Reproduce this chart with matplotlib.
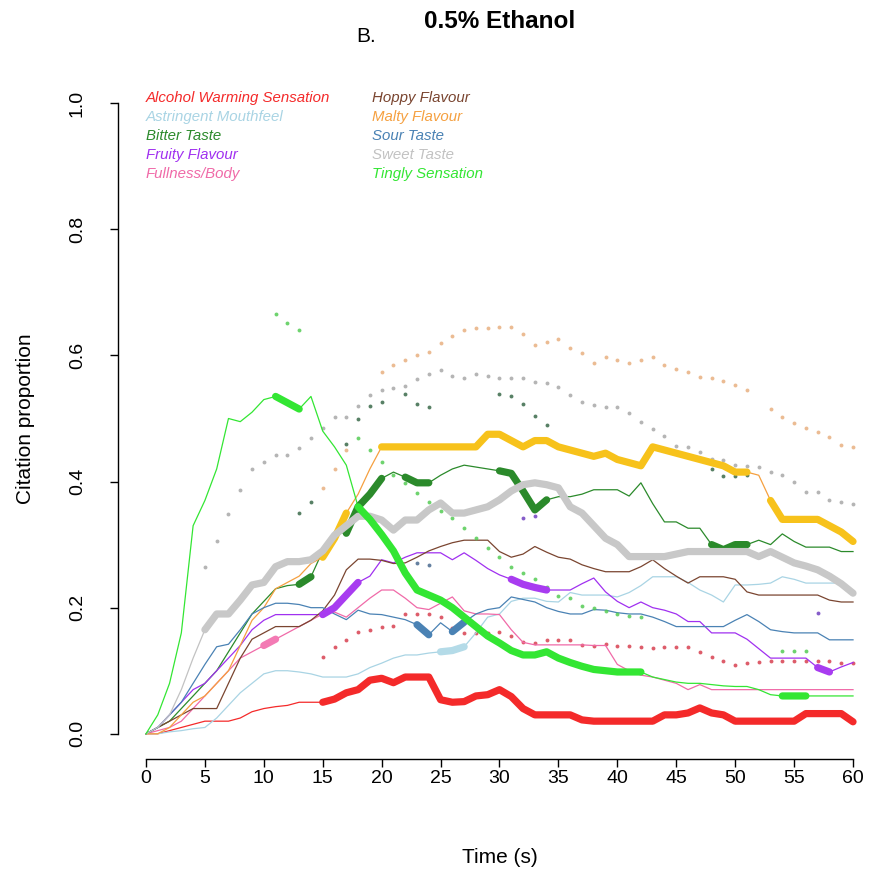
import matplotlib

matplotlib.use("Agg")

import matplotlib.pyplot as plt
import numpy as np

plt.rcParams["font.family"] = ["Liberation Sans", "DejaVu Sans"]

TIME = list(range(61))

ALCOHOL = [
    0, 0, 0.005, 0.01, 0.015, 0.02, 0.02, 0.02, 0.025, 0.035,
    0.04, 0.043, 0.045, 0.05, 0.05, 0.05, 0.055, 0.065, 0.07, 0.085,
    0.088, 0.081, 0.09, 0.09, 0.09, 0.054, 0.05, 0.051, 0.06, 0.062,
    0.07, 0.059, 0.04, 0.03, 0.03, 0.03, 0.03, 0.022, 0.02, 0.02,
    0.02, 0.02, 0.02, 0.02, 0.03, 0.03, 0.033, 0.041, 0.033, 0.03,
    0.02, 0.02, 0.02, 0.02, 0.02, 0.02, 0.032, 0.032, 0.032, 0.032, 0.019,
]
ASTRINGENT = [
    0, 0, 0.003, 0.005, 0.008, 0.01, 0.025, 0.045, 0.065, 0.08,
    0.095, 0.1, 0.1, 0.098, 0.095, 0.09, 0.09, 0.09, 0.095, 0.105,
    0.112, 0.12, 0.125, 0.125, 0.128, 0.13, 0.132, 0.138, 0.16, 0.185,
    0.19, 0.21, 0.215, 0.215, 0.21, 0.209, 0.224, 0.22, 0.22, 0.22,
    0.217, 0.224, 0.235, 0.249, 0.249, 0.249, 0.24, 0.228, 0.22, 0.209,
    0.236, 0.236, 0.237, 0.239, 0.249, 0.245, 0.239, 0.239, 0.239, 0.239, 0.223,
]
BITTER = [
    0, 0.01, 0.02, 0.04, 0.06, 0.08, 0.1, 0.13, 0.16, 0.19,
    0.21, 0.23, 0.235, 0.237, 0.249, 0.29, 0.32, 0.318, 0.36, 0.38,
    0.405, 0.415, 0.407, 0.398, 0.398, 0.41, 0.42, 0.426, 0.423, 0.42,
    0.417, 0.413, 0.385, 0.355, 0.371, 0.376, 0.376, 0.38, 0.387, 0.387,
    0.387, 0.377, 0.398, 0.365, 0.336, 0.336, 0.326, 0.326, 0.3, 0.292,
    0.3, 0.3, 0.307, 0.3, 0.317, 0.305, 0.296, 0.296, 0.296, 0.289, 0.289,
]
FRUITY = [
    0, 0.01, 0.03, 0.05, 0.07, 0.08, 0.1, 0.12, 0.14, 0.165,
    0.18, 0.189, 0.189, 0.189, 0.189, 0.189, 0.2, 0.22, 0.24, 0.25,
    0.276, 0.271, 0.28, 0.287, 0.287, 0.287, 0.276, 0.287, 0.275, 0.262,
    0.252, 0.245, 0.237, 0.232, 0.228, 0.228, 0.228, 0.238, 0.247, 0.225,
    0.21, 0.2, 0.209, 0.2, 0.196, 0.19, 0.178, 0.178, 0.16, 0.16,
    0.16, 0.15, 0.135, 0.12, 0.12, 0.12, 0.12, 0.105, 0.098, 0.106, 0.113,
]
FULLNESS = [
    0, 0.005, 0.01, 0.02, 0.04, 0.06, 0.08, 0.1, 0.12, 0.13,
    0.14, 0.15, 0.16, 0.17, 0.18, 0.19, 0.193, 0.185, 0.2, 0.215,
    0.228, 0.228, 0.215, 0.2, 0.197, 0.207, 0.217, 0.195, 0.19, 0.19,
    0.189, 0.165, 0.145, 0.141, 0.141, 0.141, 0.141, 0.141, 0.14, 0.14,
    0.11, 0.1, 0.093, 0.09, 0.085, 0.08, 0.07, 0.078, 0.07, 0.07,
    0.07, 0.07, 0.07, 0.07, 0.07, 0.07, 0.07, 0.07, 0.07, 0.07, 0.07,
]
HOPPY = [
    0, 0.01, 0.02, 0.03, 0.04, 0.04, 0.04, 0.08, 0.12, 0.15,
    0.16, 0.17, 0.17, 0.17, 0.18, 0.195, 0.22, 0.26, 0.277, 0.277,
    0.275, 0.27, 0.271, 0.28, 0.29, 0.297, 0.303, 0.307, 0.307, 0.307,
    0.289, 0.28, 0.285, 0.297, 0.288, 0.28, 0.277, 0.268, 0.262, 0.257,
    0.257, 0.257, 0.265, 0.276, 0.262, 0.25, 0.239, 0.249, 0.249, 0.249,
    0.245, 0.225, 0.22, 0.22, 0.22, 0.22, 0.22, 0.22, 0.212, 0.209, 0.209,
]
MALTY = [
    0, 0, 0.01, 0.03, 0.05, 0.06, 0.08, 0.1, 0.14, 0.18,
    0.2, 0.23, 0.24, 0.25, 0.27, 0.28, 0.31, 0.35, 0.38, 0.42,
    0.455, 0.455, 0.455, 0.455, 0.455, 0.455, 0.455, 0.455, 0.455, 0.475,
    0.475, 0.465, 0.455, 0.465, 0.465, 0.455, 0.45, 0.445, 0.44, 0.445,
    0.435, 0.43, 0.425, 0.455, 0.45, 0.445, 0.44, 0.435, 0.43, 0.425,
    0.415, 0.415, 0.41, 0.37, 0.34, 0.34, 0.34, 0.34, 0.33, 0.32, 0.305,
]
SOUR = [
    0, 0.01, 0.03, 0.05, 0.08, 0.11, 0.138, 0.142, 0.165, 0.19,
    0.2, 0.207, 0.207, 0.205, 0.2, 0.2, 0.19, 0.181, 0.196, 0.19,
    0.189, 0.185, 0.181, 0.173, 0.157, 0.176, 0.162, 0.177, 0.19, 0.197,
    0.2, 0.217, 0.213, 0.209, 0.2, 0.194, 0.19, 0.19, 0.197, 0.196,
    0.192, 0.19, 0.19, 0.185, 0.178, 0.17, 0.17, 0.17, 0.17, 0.17,
    0.18, 0.189, 0.178, 0.165, 0.162, 0.16, 0.16, 0.16, 0.149, 0.149, 0.149,
]
SWEET = [
    0, 0.01, 0.03, 0.07, 0.12, 0.165, 0.19, 0.19, 0.212, 0.236,
    0.24, 0.265, 0.273, 0.273, 0.276, 0.29, 0.315, 0.33, 0.345, 0.345,
    0.339, 0.323, 0.339, 0.339, 0.355, 0.366, 0.35, 0.35, 0.355, 0.36,
    0.371, 0.385, 0.395, 0.398, 0.395, 0.39, 0.36, 0.35, 0.33, 0.31,
    0.3, 0.281, 0.281, 0.281, 0.281, 0.285, 0.289, 0.289, 0.289, 0.289,
    0.289, 0.289, 0.281, 0.289, 0.28, 0.271, 0.266, 0.26, 0.25, 0.238, 0.223,
]
TINGLY = [
    0, 0.03, 0.08, 0.16, 0.33, 0.37, 0.42, 0.5, 0.495, 0.51,
    0.53, 0.535, 0.525, 0.515, 0.535, 0.48, 0.455, 0.426, 0.36, 0.34,
    0.316, 0.29, 0.255, 0.228, 0.22, 0.212, 0.2, 0.185, 0.17, 0.155,
    0.144, 0.132, 0.125, 0.125, 0.13, 0.12, 0.113, 0.107, 0.102, 0.1,
    0.098, 0.098, 0.098, 0.09, 0.086, 0.082, 0.08, 0.08, 0.078, 0.076,
    0.075, 0.075, 0.07, 0.062, 0.06, 0.06, 0.06, 0.06, 0.06, 0.06, 0.06,
]

# significant time windows (s), drawn as thick segments
ALCOHOL_SIG = [(15, 60)]
ASTRINGENT_SIG = [(25, 27)]
BITTER_SIG = [(13, 14), (17, 20), (22, 24), (30, 34), (48, 51)]
FRUITY_SIG = [(15, 18), (31, 34), (57, 58)]
FULLNESS_SIG = [(10, 11)]
HOPPY_SIG = []
MALTY_SIG = [(15, 17), (20, 51), (53, 60)]
SOUR_SIG = [(23, 24), (26, 27)]
SWEET_SIG = [(5, 60)]
TINGLY_SIG = [(11, 13), (18, 42), (54, 56)]

# comparison-sample proportions at the significant times (dotted)
ALCOHOL_REF_T = [15, 16, 17, 18, 19, 20, 21, 22, 23, 24, 25, 26, 27, 28, 29,
                 30, 31, 32, 33, 34, 35, 36, 37, 38, 39, 40, 41, 42, 43, 44,
                 45, 46, 47, 48, 49, 50, 51, 52, 53, 54, 55, 56, 57, 58, 59, 60]
ALCOHOL_REF = [0.122, 0.138, 0.149, 0.162, 0.165, 0.17, 0.171, 0.19, 0.19, 0.19,
               0.185, 0.168, 0.16, 0.16, 0.16, 0.162, 0.155, 0.146, 0.144, 0.149,
               0.149, 0.149, 0.141, 0.139, 0.143, 0.139, 0.139, 0.138, 0.136, 0.138,
               0.138, 0.138, 0.13, 0.122, 0.116, 0.109, 0.113, 0.114, 0.116, 0.116,
               0.116, 0.116, 0.116, 0.116, 0.113, 0.113]
BITTER_REF_T = [13, 14, 17, 18, 19, 20, 22, 23, 24, 30, 31, 32, 33, 34, 48, 49, 50, 51]
BITTER_REF = [0.35, 0.368, 0.46, 0.5, 0.52, 0.526, 0.539, 0.523, 0.518,
              0.539, 0.536, 0.523, 0.504, 0.49, 0.42, 0.409, 0.409, 0.41]
FRUITY_REF_T = [32, 33, 57]
FRUITY_REF = [0.342, 0.345, 0.192]
MALTY_REF_T = [15, 16, 17, 20, 21, 22, 23, 24, 25, 26, 27, 28, 29, 30, 31, 32,
               33, 34, 35, 36, 37, 38, 39, 40, 41, 42, 43, 44, 45, 46, 47, 48,
               49, 50, 51, 53, 54, 55, 56, 57, 58, 59, 60]
MALTY_REF = [0.39, 0.42, 0.45, 0.574, 0.585, 0.593, 0.601, 0.605, 0.62, 0.631,
             0.64, 0.643, 0.643, 0.645, 0.645, 0.634, 0.616, 0.621, 0.626, 0.612,
             0.604, 0.588, 0.597, 0.593, 0.588, 0.593, 0.597, 0.585, 0.578, 0.574,
             0.566, 0.564, 0.56, 0.553, 0.545, 0.515, 0.502, 0.493, 0.485, 0.479,
             0.471, 0.458, 0.455]
SOUR_REF_T = [23, 24]
SOUR_REF = [0.271, 0.268]
SWEET_REF_T = list(range(5, 61))
SWEET_REF = [0.265, 0.306, 0.349, 0.387, 0.42, 0.431, 0.442, 0.442, 0.453, 0.469,
             0.485, 0.502, 0.502, 0.52, 0.537, 0.545, 0.548, 0.551, 0.562, 0.571,
             0.577, 0.567, 0.565, 0.571, 0.567, 0.565, 0.565, 0.564, 0.558, 0.556,
             0.55, 0.537, 0.526, 0.521, 0.518, 0.518, 0.509, 0.495, 0.483, 0.472,
             0.456, 0.455, 0.447, 0.436, 0.434, 0.426, 0.425, 0.423, 0.415, 0.41,
             0.4, 0.384, 0.384, 0.371, 0.368, 0.365]
TINGLY_REF_T = [11, 12, 13, 18, 19, 20, 21, 22, 23, 24, 25, 26, 27, 28, 29, 30,
                31, 32, 33, 34, 35, 36, 37, 38, 39, 40, 41, 42, 54, 55, 56]
TINGLY_REF = [0.665, 0.652, 0.64, 0.469, 0.45, 0.431, 0.41, 0.398, 0.382, 0.368,
              0.353, 0.342, 0.326, 0.31, 0.295, 0.28, 0.265, 0.255, 0.245, 0.232,
              0.219, 0.216, 0.203, 0.2, 0.195, 0.19, 0.187, 0.185, 0.131, 0.131, 0.131]

LABELS = [
    "Alcohol Warming Sensation", "Astringent Mouthfeel", "Bitter Taste",
    "Fruity Flavour", "Fullness/Body", "Hoppy Flavour", "Malty Flavour",
    "Sour Taste", "Sweet Taste", "Tingly Sensation",
]
COLORS = [
    "#f42a2a", "#a9d4e4", "#2b8a2b", "#a030f0", "#f06aa8",
    "#7a4530", "#f5a040", "#4a82b4", "#c2c2c2", "#33e633",
]
THICK_COLORS = [
    "#f42a2a", "#b4dbe8", "#2b8a2b", "#a83cf0", "#f37ab4",
    "#7a4530", "#f7c21b", "#4a82b4", "#c8c8c8", "#33e633",
]
DOT_COLORS = [
    "#d84050", "#9cc8dc", "#3a6a4a", "#7040c0", "#e06a9a",
    "#7a4530", "#e8b080", "#4a6a90", "#a8a8a8", "#55cc55",
]


def sig_mask(windows):
    mask = np.zeros(len(TIME), dtype=bool)
    for start, end in windows:
        mask[start:end + 1] = True
    return mask


def draw_attribute(ax, values, windows, ref_t, ref, color, thick_color, dot_color):
    t = np.array(TIME)
    v = np.array(values, dtype=float)
    ax.plot(t, v, color=color, lw=0.9, zorder=2)
    if windows:
        thick = np.where(sig_mask(windows), v, np.nan)
        ax.plot(t, thick, color=thick_color, lw=5.2, solid_capstyle="round",
                solid_joinstyle="round", zorder=3)
    if ref_t:
        ax.plot(ref_t, ref, ls="none", marker="o", ms=2.8, color=dot_color,
                alpha=0.85, mec="none", zorder=2)


fig = plt.figure(figsize=(8.69, 8.73), dpi=100)
ax = fig.add_axes([117.7 / 869, 1 - 759 / 873, 763.6 / 869, 681 / 873])

series = [
    (ALCOHOL, ALCOHOL_SIG, ALCOHOL_REF_T, ALCOHOL_REF),
    (ASTRINGENT, ASTRINGENT_SIG, [], []),
    (BITTER, BITTER_SIG, BITTER_REF_T, BITTER_REF),
    (FRUITY, FRUITY_SIG, FRUITY_REF_T, FRUITY_REF),
    (FULLNESS, FULLNESS_SIG, [], []),
    (HOPPY, HOPPY_SIG, [], []),
    (MALTY, MALTY_SIG, MALTY_REF_T, MALTY_REF),
    (SOUR, SOUR_SIG, SOUR_REF_T, SOUR_REF),
    (SWEET, SWEET_SIG, SWEET_REF_T, SWEET_REF),
    (TINGLY, TINGLY_SIG, TINGLY_REF_T, TINGLY_REF),
]
for (values, windows, ref_t, ref), color, thick_color, dot_color in zip(
        series, COLORS, THICK_COLORS, DOT_COLORS):
    draw_attribute(ax, values, windows, ref_t, ref, color, thick_color, dot_color)

# legend as coloured italic text, two columns
for i, (label, color) in enumerate(zip(LABELS, COLORS)):
    col, row = divmod(i, 5)
    ax.text(0 if col == 0 else 19.2, 1.008 - 0.0302 * row, label,
            color=color, fontsize=10.8, style="italic", ha="left", va="center")

ax.set_xlim(-2.4, 62.4)
ax.set_ylim(-0.04, 1.04)
for side in ("top", "right"):
    ax.spines[side].set_visible(False)
ax.spines["bottom"].set_bounds(0, 60)
ax.spines["left"].set_bounds(0, 1)
for side in ("bottom", "left"):
    ax.spines[side].set_linewidth(1.0)
ax.set_xticks(range(0, 61, 5))
ax.set_yticks([0, 0.2, 0.4, 0.6, 0.8, 1.0])
ax.set_yticklabels(["0.0", "0.2", "0.4", "0.6", "0.8", "1.0"],
                   rotation=90, va="center")
ax.tick_params(axis="x", length=6, width=1.0, labelsize=14, pad=2)
ax.tick_params(axis="y", length=6, width=1.0, labelsize=14, pad=17)
ax.set_xlabel("Time (s)", fontsize=15)
ax.set_ylabel("Citation proportion", fontsize=15)
ax.xaxis.set_label_coords(0.5, -0.13)
ax.yaxis.set_label_coords(-0.108, 0.5)

fig.text(500 / 869, 1 - 22 / 873, "0.5% Ethanol", fontsize=17.5,
         fontweight="bold", ha="center", va="center")
fig.text(366 / 869, 1 - 36 / 873, "B.", fontsize=15, ha="center", va="center",
         family=["Liberation Sans Narrow", "Liberation Sans", "DejaVu Sans"])

fig.savefig("out.png", dpi=100, facecolor="white")
